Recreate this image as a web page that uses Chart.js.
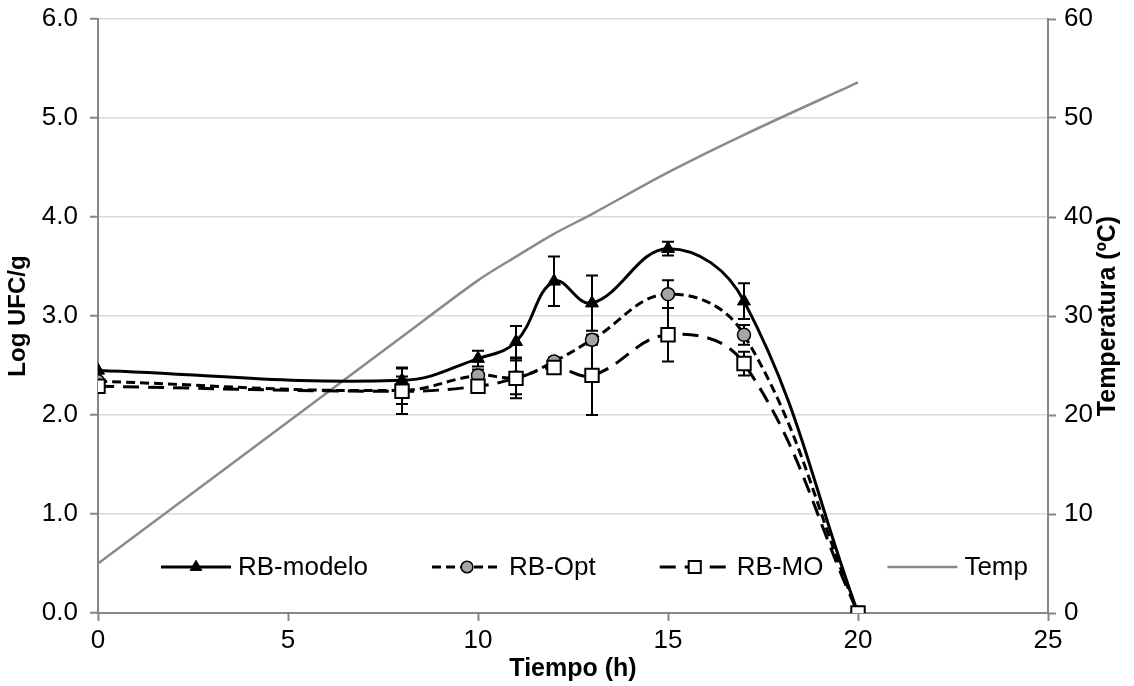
<!DOCTYPE html>
<html>
<head>
<meta charset="utf-8">
<script src="https://cdn.jsdelivr.net/npm/chart.js@4.4.1/dist/chart.umd.min.js"></script>
<style>
  html, body { margin: 0; padding: 0; background: #fff; }
  #wrap { width: 1134px; height: 686px; }
</style>
</head>
<body>
<div id="wrap"><canvas id="growthChart"></canvas></div>
<script>
// Tiempo (h) de cada muestreo
const tiempo = [0, 8, 10, 11, 12, 13, 15, 17, 20];

// Log UFC/g
const rbModelo = [2.45, 2.35, 2.57, 2.74, 3.35, 3.13, 3.68, 3.15, 0];
const rbOpt    = [2.34, 2.25, 2.40, 2.38, 2.54, 2.76, 3.22, 2.81, 0];
const rbMO     = [2.29, 2.24, 2.29, 2.37, 2.48, 2.40, 2.81, 2.52, 0];

// desviacion (barras de error)
const errModelo = [0, 0.13, 0.08, 0.16, 0.25, 0.28, 0.07, 0.18, 0];
const errOpt    = [0, 0.14, 0.06, 0.17, 0.04, 0.05, 0.14, 0.10, 0];
const errMO     = [0, 0.23, 0.04, 0.20, 0.05, 0.40, 0.27, 0.12, 0];

// Temperatura (ºC)
const temp = [5, 27.9, 33.6, 36.0, 38.3, 40.3, 44.5, 48.3, 53.6];

const FONT = '"Liberation Sans", Arial, sans-serif';
const AXIS_GRAY = '#868686';

const toPoints = (vals) => tiempo.map((t, i) => ({ x: t, y: vals[i] }));

// barras de error, dibujadas antes de las lineas y marcadores
const errorBars = {
  id: 'errorBars',
  beforeDatasetsDraw(chart) {
    const { ctx, scales: { x, y } } = chart;
    ctx.save();
    ctx.strokeStyle = '#000';
    ctx.lineWidth = 2;
    chart.data.datasets.forEach(ds => {
      if (!ds.errors) return;
      ds.data.forEach((p, i) => {
        const e = ds.errors[i];
        if (!e) return;
        const px = x.getPixelForValue(p.x);
        const top = y.getPixelForValue(p.y + e);
        const bot = y.getPixelForValue(p.y - e);
        ctx.beginPath();
        ctx.moveTo(px, top); ctx.lineTo(px, bot);
        ctx.moveTo(px - 6, top); ctx.lineTo(px + 6, top);
        ctx.moveTo(px - 6, bot); ctx.lineTo(px + 6, bot);
        ctx.stroke();
      });
    });
    ctx.restore();
  }
};

// leyenda dentro del area del grafico, como en Excel
const innerLegend = {
  id: 'innerLegend',
  afterDraw(chart) {
    const { ctx, chartArea } = chart;
    const order = ['RB-modelo', 'RB-Opt', 'RB-MO', 'Temp'];
    let xPos = chartArea.left + 63;
    const yPos = chartArea.bottom - 46;
    ctx.save();
    ctx.font = '26px ' + FONT;
    ctx.textBaseline = 'middle';
    order.forEach(name => {
      const ds = chart.data.datasets.find(d => d.label === name);
      const sample = 70;
      ctx.save();
      ctx.strokeStyle = ds.borderColor;
      ctx.lineWidth = ds.borderWidth;
      ctx.setLineDash(ds.borderDash || []);
      ctx.beginPath();
      ctx.moveTo(xPos, yPos);
      ctx.lineTo(xPos + sample, yPos);
      ctx.stroke();
      ctx.restore();
      if (ds.pointRadius > 0) {
        ctx.save();
        ctx.fillStyle = ds.pointBackgroundColor;
        ctx.strokeStyle = ds.pointBorderColor;
        ctx.lineWidth = ds.pointBorderWidth;
        Chart.helpers.drawPoint(ctx, {
          pointStyle: ds.pointStyle,
          radius: ds.pointRadius * 0.9,
          borderWidth: ds.pointBorderWidth
        }, xPos + sample / 2, yPos);
        ctx.restore();
      }
      ctx.fillStyle = '#000';
      ctx.fillText(name, xPos + sample + 7, yPos + 1);
      xPos += sample + 7 + ctx.measureText(name).width + 64;
    });
    ctx.restore();

    // titulo del eje derecho (se superpone a las etiquetas, como en el original)
    const y2 = chart.scales.y2;
    ctx.save();
    ctx.font = 'bold 25px ' + FONT;
    ctx.fillStyle = '#000';
    ctx.textAlign = 'center';
    ctx.textBaseline = 'middle';
    ctx.translate(y2.left + 60, (chartArea.top + chartArea.bottom) / 2);
    ctx.rotate(-Math.PI / 2);
    ctx.fillText('Temperatura (ºC)', 0, 0);
    ctx.restore();
  }
};

// tamaños fijos de los ejes para que el area del grafico coincida
const fixVertical = (w) => (s) => { s.width = w; s.paddingTop = 0; s.paddingBottom = 0; };

const ctx = document.getElementById('growthChart').getContext('2d');
const growthChart = new Chart(ctx, {
  type: 'line',
  data: {
    datasets: [
      {
        label: 'RB-MO',
        data: toPoints(rbMO),
        errors: errMO,
        borderColor: '#000',
        borderWidth: 3,
        borderDash: [16, 9],
        pointStyle: 'rect',
        pointRadius: 9.5,
        pointBackgroundColor: '#fff',
        pointBorderColor: '#000',
        pointBorderWidth: 2,
        tension: 0.4,
        order: 0
      },
      {
        label: 'RB-Opt',
        data: toPoints(rbOpt),
        errors: errOpt,
        borderColor: '#000',
        borderWidth: 3,
        borderDash: [9, 5],
        pointStyle: 'circle',
        pointRadius: 6.5,
        pointBackgroundColor: '#a5a5a5',
        pointBorderColor: '#000',
        pointBorderWidth: 1.5,
        tension: 0.4,
        order: 1
      },
      {
        label: 'RB-modelo',
        data: toPoints(rbModelo),
        errors: errModelo,
        borderColor: '#000',
        borderWidth: 3,
        pointStyle: 'triangle',
        pointRadius: 7.5,
        pointBackgroundColor: '#000',
        pointBorderColor: '#000',
        pointBorderWidth: 1,
        tension: 0.4,
        order: 2
      },
      {
        label: 'Temp',
        data: toPoints(temp),
        yAxisID: 'y2',
        borderColor: '#8a8a8a',
        borderWidth: 2.5,
        pointRadius: 0,
        tension: 0.3,
        order: 3
      }
    ]
  },
  plugins: [errorBars, innerLegend],
  options: {
    responsive: true,
    maintainAspectRatio: false,
    animation: false,
    layout: { padding: { top: 19, left: 0, right: 0, bottom: 0 } },
    plugins: {
      legend: { display: false },
      tooltip: { enabled: false }
    },
    scales: {
      x: {
        type: 'linear',
        min: 0, max: 25,
        afterFit: (s) => { s.height = 73; s.paddingLeft = 0; s.paddingRight = 0; },
        ticks: { stepSize: 5, color: '#000', font: { family: FONT, size: 26 }, padding: 4, maxRotation: 0 },
        grid: { drawOnChartArea: false, tickLength: 8, tickColor: AXIS_GRAY, tickWidth: 2 },
        border: { color: AXIS_GRAY, width: 2 },
        title: { display: true, text: 'Tiempo (h)', color: '#000', font: { family: FONT, size: 25, weight: 'bold' }, padding: { top: 0, bottom: 2 } }
      },
      y: {
        position: 'left',
        min: 0, max: 6,
        afterFit: fixVertical(98),
        ticks: { stepSize: 1, color: '#000', font: { family: FONT, size: 26 }, padding: 12, callback: v => v.toFixed(1) },
        grid: { color: '#d9d9d9', lineWidth: 1.5, tickLength: 8, tickColor: AXIS_GRAY, tickWidth: 2 },
        border: { color: AXIS_GRAY, width: 2 },
        title: { display: true, text: 'Log UFC/g', color: '#000', font: { family: FONT, size: 24, weight: 'bold' }, padding: { top: 4, bottom: 0 } }
      },
      y2: {
        position: 'right',
        min: 0, max: 60,
        afterFit: fixVertical(86),
        ticks: { stepSize: 10, color: '#000', font: { family: FONT, size: 26 }, padding: 8 },
        grid: { drawOnChartArea: false, tickLength: 8, tickColor: AXIS_GRAY, tickWidth: 2 },
        border: { color: AXIS_GRAY, width: 2 }
      }
    }
  }
});
</script>
</body>
</html>
